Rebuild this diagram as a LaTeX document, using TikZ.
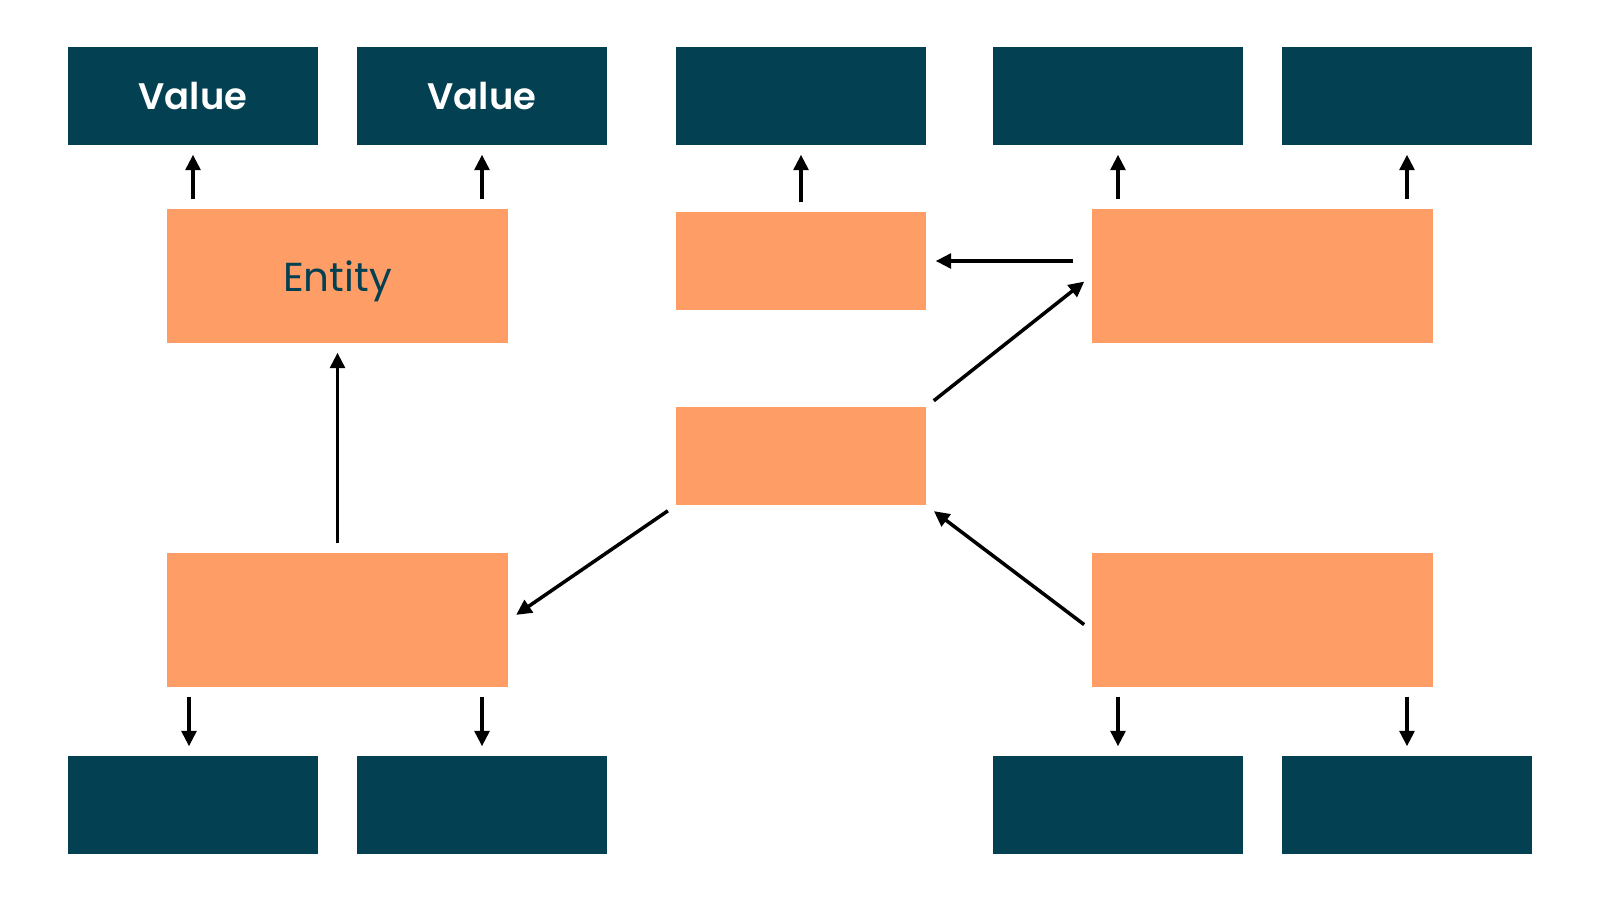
\documentclass[tikz,border=0pt]{standalone}
\usepackage{fontspec}
\setmainfont{Poppins}
\newfontfamily\valuefont{Poppins SemiBold}
\usetikzlibrary{arrows.meta}

\definecolor{valuecol}{RGB}{3,64,81}
\definecolor{entitycol}{RGB}{255,157,102}

\tikzset{
  valuebox/.style={fill=valuecol,minimum width=2.5cm,minimum height=0.98cm,
    text=white,font=\fontsize{10.5}{12}\valuefont,inner sep=0pt},
  entitybig/.style={fill=entitycol,minimum width=3.41cm,minimum height=1.34cm,
    text=valuecol,font=\fontsize{11.5}{13}\selectfont,inner sep=0pt,text depth=0pt},
  entitysmall/.style={fill=entitycol,minimum width=2.5cm,minimum height=0.98cm,inner sep=0pt},
  link/.style={-{Triangle[length=4.4pt,width=4.2pt]},line width=1pt,
    shorten >=0.09cm,shorten <=0.09cm}
}

\begin{document}
\begin{tikzpicture}
  \useasboundingbox (0,0) rectangle (16,9);
  % Value objects, top row
  \node[valuebox] (v1) at (1.93,8.04) {Value};
  \node[valuebox] (v2) at (4.82,8.04) {Value};
  \node[valuebox] (v3) at (8.01,8.04) {};
  \node[valuebox] (v4) at (11.18,8.04) {};
  \node[valuebox] (v5) at (14.07,8.04) {};
  % Value objects, bottom row
  \node[valuebox] (w1) at (1.93,0.95) {};
  \node[valuebox] (w2) at (4.82,0.95) {};
  \node[valuebox] (w4) at (11.18,0.95) {};
  \node[valuebox] (w5) at (14.07,0.95) {};
  % Entities
  \node[entitybig] (ent) at (3.375,6.24) {Entity};
  \node[entitysmall] (mid) at (8.01,6.39) {};
  \node[entitybig] (rtop) at (12.625,6.24) {};
  \node[entitysmall] (ctr) at (8.01,4.44) {};
  \node[entitybig] (lbot) at (3.375,2.80) {};
  \node[entitybig] (rbot) at (12.625,2.80) {};
  % Entities to values
  \draw[link] (ent.north -| v1) -- (v1.south);
  \draw[link] (ent.north -| v2) -- (v2.south);
  \draw[link] (mid.north) -- (v3.south);
  \draw[link] (rtop.north -| v4) -- (v4.south);
  \draw[link] (rtop.north -| v5) -- (v5.south);
  \draw[link] ([xshift=-0.04cm]lbot.south -| w1) -- ([xshift=-0.04cm]w1.north);
  \draw[link] (lbot.south -| w2) -- (w2.north);
  \draw[link] (rbot.south -| w4) -- (w4.north);
  \draw[link] (rbot.south -| w5) -- (w5.north);
  % Between entities
  \draw[link] (lbot.north) -- (ent.south);
  \draw[link] ([xshift=-0.09cm]rtop.west |- mid.east) -- (mid.east);
  \draw[link] (ctr.north east) -- (rtop.west);
  \draw[link] (ctr.south west) -- (lbot.east);
  \draw[link] ([yshift=-0.1cm]rbot.west) -- (ctr.south east);
\end{tikzpicture}
\end{document}
